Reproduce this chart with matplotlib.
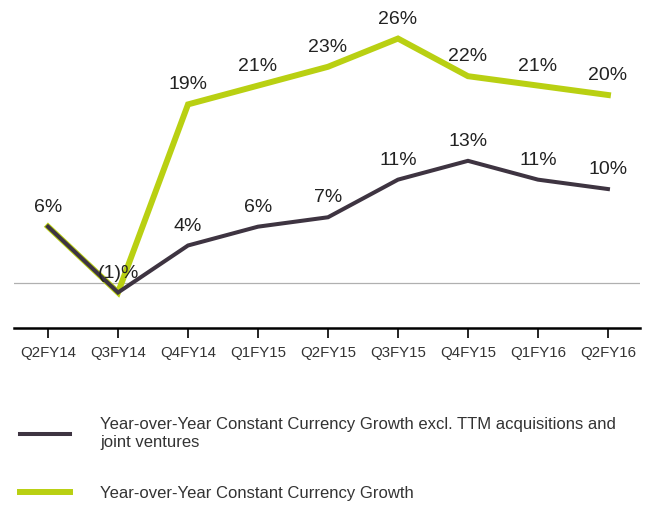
import matplotlib.pyplot as plt

plt.rcParams['font.family'] = ['Liberation Sans', 'DejaVu Sans']

quarters = ['Q2FY14', 'Q3FY14', 'Q4FY14', 'Q1FY15', 'Q2FY15',
            'Q3FY15', 'Q4FY15', 'Q1FY16', 'Q2FY16']
growth_excl = [6, -1, 4, 6, 7, 11, 13, 11, 10]
growth_total = [6, -1, 19, 21, 23, 26, 22, 21, 20]

label_excl = ('Year-over-Year Constant Currency Growth excl. TTM acquisitions and\n'
              'joint ventures')
label_total = 'Year-over-Year Constant Currency Growth'

dark = '#3e3441'
green = '#b9d012'


def pct(v):
    return f'({abs(v)})%' if v < 0 else f'{v}%'


fig = plt.figure(figsize=(6.52, 5.05), dpi=100)
ax = fig.add_axes([0.0215, 0.35, 0.96, 0.65])

x = list(range(len(quarters)))
ax.axhline(0, color='#b0b0b0', lw=0.9, zorder=1)
l_total, = ax.plot(x, growth_total, color=green, lw=4.3, zorder=2,
                   solid_joinstyle='miter', label=label_total)
l_excl, = ax.plot(x, growth_excl, color=dark, lw=2.9, zorder=3,
                  solid_joinstyle='miter', label=label_excl)

# green labels only where the lines part
for i, v in enumerate(growth_total):
    if v != growth_excl[i]:
        ax.annotate(pct(v), (i, v), xytext=(0, 14), textcoords='offset points',
                    ha='center', va='center', fontsize=14, color='#222222')
for i, v in enumerate(growth_excl):
    ax.annotate(pct(v), (i, v), xytext=(0, 14), textcoords='offset points',
                ha='center', va='center', fontsize=14, color='#222222', zorder=5)

ax.set_xlim(-0.486, 8.457)
ax.set_ylim(-4.8, 30.1)
for s in ['top', 'right', 'left']:
    ax.spines[s].set_visible(False)
ax.spines['bottom'].set_linewidth(1.8)
ax.set_yticks([])
ax.set_xticks(x)
ax.set_xticklabels(quarters, fontsize=10.8, color='#333333')
ax.tick_params(axis='x', length=7, width=1.2, pad=6)

leg = ax.legend(handles=[l_excl, l_total], loc='upper left',
                bbox_to_anchor=(0.031, 0.175), bbox_transform=fig.transFigure,
                frameon=False, fontsize=12, handlelength=3.0, handletextpad=1.8,
                labelspacing=2.15, borderaxespad=0, borderpad=0)
for t in leg.get_texts():
    t.set_color('#333333')
    t.set_linespacing(1.3)

fig.savefig('out.png', dpi=100)
